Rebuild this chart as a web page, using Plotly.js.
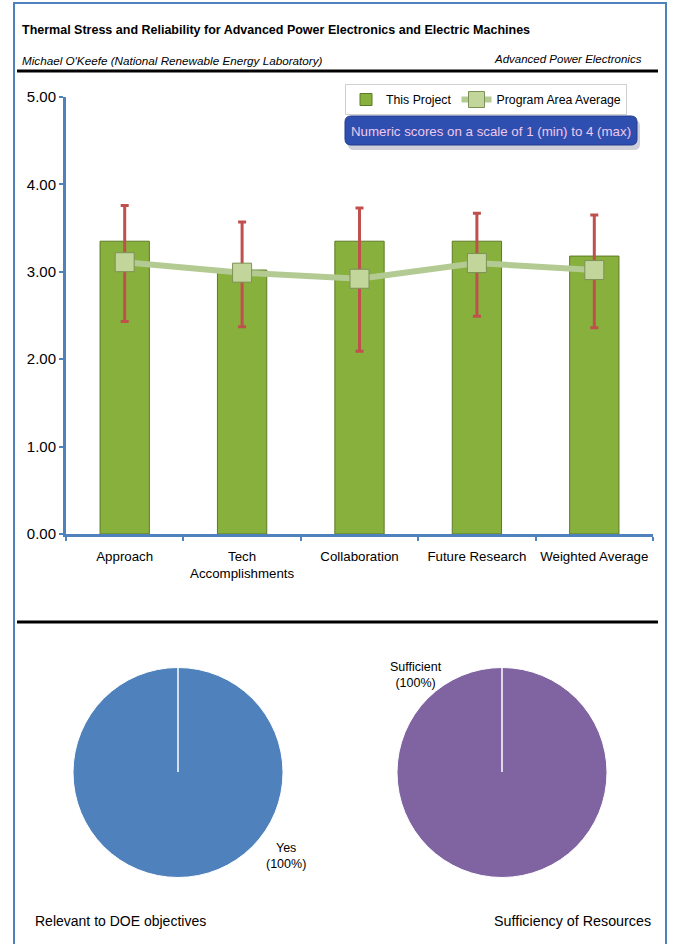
<!DOCTYPE html>
<html>
<head>
<meta charset="utf-8">
<script src="https://cdn.plot.ly/plotly-3.0.1.min.js"></script>
<style>html,body{margin:0;padding:0;background:#fff;}#chart{width:675px;height:944px;}</style>
</head>
<body>
<div id="chart"></div>
<script>
// ---- data ----
const categories = ['Approach', 'Tech<br>Accomplishments', 'Collaboration', 'Future Research', 'Weighted Average'];
const projectScores = [3.35, 3.02, 3.35, 3.35, 3.18];
const errorPlus = [0.41, 0.55, 0.38, 0.32, 0.47];
const errorMinus = [0.92, 0.65, 1.26, 0.86, 0.82];
const programAverage = [3.11, 2.99, 2.92, 3.10, 3.02];
const yTickValues = [0, 1, 2, 3, 4, 5];
const yTickLabels = ['0.00', '1.00', '2.00', '3.00', '4.00', '5.00'];

const relevanceLabels = ['Yes'];
const relevanceValues = [100];
const resourceLabels = ['Sufficient'];
const resourceValues = [100];

const chartTitle = 'Thermal Stress and Reliability for Advanced Power Electronics and Electric Machines';
const presenter = "Michael O'Keefe (National Renewable Energy Laboratory)";
const programArea = 'Advanced Power Electronics';
const scaleNote = 'Numeric scores on a scale of 1 (min) to 4 (max)';
const pie1Title = 'Relevant to DOE objectives';
const pie2Title = 'Sufficiency of Resources';

// ---- helpers ----
const W = 675, H = 944;
const px = x => x / W;
const py = y => 1 - y / H;
const font = '"Liberation Sans", Arial, sans-serif';
function pct(vals, i) { const t = vals.reduce((a, b) => a + b, 0); return Math.round(vals[i] / t * 100) + '%'; }
function roundRect(x0, y0, x1, y1, r) {
  const X = v => px(v), Y = v => py(v);
  return 'M' + X(x0 + r) + ',' + Y(y0) +
    ' L' + X(x1 - r) + ',' + Y(y0) + ' Q' + X(x1) + ',' + Y(y0) + ' ' + X(x1) + ',' + Y(y0 + r) +
    ' L' + X(x1) + ',' + Y(y1 - r) + ' Q' + X(x1) + ',' + Y(y1) + ' ' + X(x1 - r) + ',' + Y(y1) +
    ' L' + X(x0 + r) + ',' + Y(y1) + ' Q' + X(x0) + ',' + Y(y1) + ' ' + X(x0) + ',' + Y(y1 - r) +
    ' L' + X(x0) + ',' + Y(y0 + r) + ' Q' + X(x0) + ',' + Y(y0) + ' ' + X(x0 + r) + ',' + Y(y0) + ' Z';
}

const traces = [
  {
    type: 'bar', name: 'This Project', x: categories, y: projectScores,
    width: 0.42,
    marker: { color: '#88b03c', line: { color: '#5c7a24', width: 1 } },
    error_y: { type: 'data', symmetric: false, array: errorPlus, arrayminus: errorMinus,
               color: '#c0504d', thickness: 3, width: 4 },
    xaxis: 'x', yaxis: 'y', hoverinfo: 'skip'
  },
  {
    type: 'scatter', mode: 'lines+markers', name: 'Program Area Average',
    x: categories, y: programAverage,
    line: { color: '#b3cb93', width: 6 },
    marker: { symbol: 'square', size: 19, color: '#c2d59a', line: { color: '#7d9156', width: 1 } },
    xaxis: 'x', yaxis: 'y', hoverinfo: 'skip'
  },
  {
    type: 'pie', labels: relevanceLabels, values: relevanceValues, sort: false,
    domain: { x: [px(73), px(283)], y: [py(878), py(667)] },
    marker: { colors: ['#4f81bd'], line: { color: '#ffffff', width: 1 } },
    textinfo: 'none', showlegend: false, hoverinfo: 'skip'
  },
  {
    type: 'pie', labels: resourceLabels, values: resourceValues, sort: false,
    domain: { x: [px(397), px(607)], y: [py(878), py(667)] },
    marker: { colors: ['#8064a2'], line: { color: '#ffffff', width: 1 } },
    textinfo: 'none', showlegend: false, hoverinfo: 'skip'
  }
];

const annotations = [
  { text: '<b>' + chartTitle + '</b>', x: px(20), y: py(30), xref: 'paper', yref: 'paper',
    xanchor: 'left', yanchor: 'middle', showarrow: false, font: { family: font, size: 12.5, color: '#000' } },
  { text: '<i>' + presenter + '</i>', x: px(20), y: py(61), xref: 'paper', yref: 'paper',
    xanchor: 'left', yanchor: 'middle', showarrow: false, font: { family: font, size: 11.7, color: '#000' } },
  { text: '<i>' + programArea + '</i>', x: px(644), y: py(59), xref: 'paper', yref: 'paper',
    xanchor: 'right', yanchor: 'middle', showarrow: false, font: { family: font, size: 11.5, color: '#000' } },
  { text: scaleNote, x: px(491), y: py(131), xref: 'paper', yref: 'paper',
    xanchor: 'center', yanchor: 'middle', showarrow: false,
    font: { family: font, size: 13.3, color: '#f0c8ec' } },
  { text: relevanceLabels[0] + '<br>(' + pct(relevanceValues, 0) + ')', x: px(286), y: py(856), xref: 'paper', yref: 'paper',
    xanchor: 'center', yanchor: 'middle', showarrow: false, font: { family: font, size: 12.5, color: '#000' } },
  { text: resourceLabels[0] + '<br>(' + pct(resourceValues, 0) + ')', x: px(416), y: py(675), xref: 'paper', yref: 'paper',
    xanchor: 'center', yanchor: 'middle', showarrow: false, font: { family: font, size: 12.5, color: '#000' } },
  { text: pie1Title, x: px(33), y: py(921), xref: 'paper', yref: 'paper',
    xanchor: 'left', yanchor: 'middle', showarrow: false, font: { family: font, size: 14, color: '#000' } },
  { text: pie2Title, x: px(653), y: py(921), xref: 'paper', yref: 'paper',
    xanchor: 'right', yanchor: 'middle', showarrow: false, font: { family: font, size: 14.3, color: '#000' } }
];

const shapes = [
  { type: 'rect', xref: 'paper', yref: 'paper', x0: px(14), x1: px(666), y0: -0.02, y1: py(3),
    line: { color: '#4f81bd', width: 2 }, fillcolor: 'rgba(0,0,0,0)', layer: 'below' },
  { type: 'line', xref: 'paper', yref: 'paper', x0: px(17), x1: px(658), y0: py(71), y1: py(71),
    line: { color: '#000', width: 3 } },
  { type: 'line', xref: 'paper', yref: 'paper', x0: px(17), x1: px(658), y0: py(622), y1: py(622),
    line: { color: '#000', width: 3 } },
  { type: 'rect', xref: 'paper', yref: 'paper', x0: px(348), x1: px(623), y0: py(111), y1: py(87),
    line: { width: 0 }, fillcolor: '#bdbdbd', layer: 'below' },
  { type: 'path', xref: 'paper', yref: 'paper', path: roundRect(348, 120, 640, 150, 6),
    line: { width: 0 }, fillcolor: 'rgba(150,150,175,0.45)', layer: 'below' },
  { type: 'path', xref: 'paper', yref: 'paper', path: roundRect(345, 116, 637, 145, 6),
    line: { color: '#223b8c', width: 1 }, fillcolor: '#2e4fb0', layer: 'below' },
  { type: 'line', xref: 'paper', yref: 'paper', x0: px(178), x1: px(178), y0: py(772), y1: py(667),
    line: { color: '#ffffff', width: 1.5 } },
  { type: 'line', xref: 'paper', yref: 'paper', x0: px(502), x1: px(502), y0: py(772), y1: py(667),
    line: { color: '#ffffff', width: 1.5 } }
];

const layout = {
  width: W, height: H,
  margin: { l: 0, r: 0, t: 0, b: 0 },
  paper_bgcolor: '#ffffff', plot_bgcolor: 'rgba(0,0,0,0)',
  showlegend: true,
  legend: {
    orientation: 'h', x: px(345), y: py(84), xanchor: 'left', yanchor: 'top',
    bgcolor: '#ffffff', bordercolor: '#d0d0d0', borderwidth: 1,
    font: { family: font, size: 12.3, color: '#000' }, itemwidth: 30, tracegroupgap: 0
  },
  xaxis: {
    domain: [px(66), px(653)], anchor: 'y',
    showline: true, linecolor: '#4f81bd', linewidth: 3,
    ticks: 'outside', tickson: 'boundaries', ticklen: 4, tickcolor: '#4f81bd', tickwidth: 2,
    tickangle: 0, ticklabelstandoff: 8,
    tickfont: { family: font, size: 13.3, color: '#000' },
    showgrid: false, zeroline: false, fixedrange: true
  },
  yaxis: {
    domain: [py(534), py(97)], anchor: 'x', range: [0, 5],
    tickvals: yTickValues, ticktext: yTickLabels,
    showline: true, linecolor: '#4f81bd', linewidth: 3,
    ticks: 'outside', ticklen: 4, tickcolor: '#4f81bd', tickwidth: 2,
    tickfont: { family: font, size: 15, color: '#000' },
    showgrid: false, zeroline: false, fixedrange: true
  },
  bargap: 0.58,
  annotations: annotations,
  shapes: shapes
};

Plotly.newPlot('chart', traces, layout, { displayModeBar: false, staticPlot: true });
</script>
</body>
</html>
